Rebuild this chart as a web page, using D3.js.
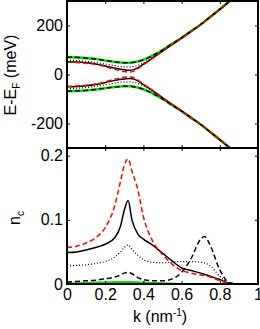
<!DOCTYPE html>
<html>
<head>
<meta charset="utf-8">
<script src="https://cdn.jsdelivr.net/npm/d3@7"></script>
<style>
  body { margin: 0; background: #fff; }
  text { font-family: "Liberation Sans", Arial, sans-serif; }
</style>
</head>
<body>
<script>
'use strict';

// band structure (top panel), energies in meV
const bandK = [0, 0.05, 0.1, 0.15, 0.2, 0.25, 0.3, 0.33, 0.35, 0.4, 0.45, 0.5, 0.55, 0.6, 0.65, 0.7, 0.75, 0.8, 0.85, 0.9];
const greenUp   = [71, 70, 67, 63, 57, 51, 48, 48, 50, 60, 78, 100, 125, 150, 177, 204, 235, 266, 298, 330];
const greenDown = [-68, -67, -65, -61, -56, -51, -48, -48, -50, -60, -78, -100, -125, -150, -177, -204, -235, -266, -298, -330];
const dotUp     = [58, 57, 54, 49, 43, 36, 31, 31, 33, 47, 71, 97, 123, 149, 176, 204, 235, 266, 298, 330];
const dotDown   = [-57, -56, -53, -48, -42, -35, -30, -30, -32, -46, -70, -96, -123, -149, -176, -204, -235, -266, -298, -330];
const solidUp   = [52, 51, 48, 43, 35, 26, 19, 17, 20, 42, 68, 95, 122, 148, 176, 204, 235, 266, 298, 330];
const solidDown = [-50, -49, -46, -41, -33, -24, -18, -16, -19, -41, -67, -94, -122, -148, -176, -204, -235, -266, -298, -330];
const redUp     = [50, 49, 46, 41, 32, 21, 12, 10, 14, 40, 67, 95, 122, 148, 176, 204, 235, 266, 298, 330];
const redDown   = [-48, -47, -44, -39, -30, -19, -11, -9, -13, -39, -66, -94, -122, -148, -176, -204, -235, -266, -298, -330];

// n_c (bottom panel)
const ncK = [0, 0.05, 0.1, 0.15, 0.2, 0.25, 0.28, 0.3, 0.32, 0.34, 0.37, 0.4, 0.45, 0.5, 0.55, 0.6, 0.65, 0.7, 0.72, 0.75, 0.8, 0.85, 0.9, 0.95, 1];
const ncRed    = [0.057, 0.059, 0.064, 0.072, 0.088, 0.122, 0.16, 0.185, 0.195, 0.176, 0.148, 0.105, 0.066, 0.046, 0.031, 0.021, 0.017, 0.014, 0.013, 0.011, 0.005, 0.001, 0, 0, 0];
const ncSolid  = [0.049, 0.050, 0.053, 0.057, 0.062, 0.072, 0.09, 0.115, 0.13, 0.1, 0.078, 0.07, 0.06, 0.048, 0.036, 0.025, 0.021, 0.017, 0.015, 0.012, 0.007, 0.001, 0, 0, 0];
const ncDot    = [0.028, 0.029, 0.030, 0.032, 0.035, 0.042, 0.05, 0.057, 0.061, 0.054, 0.045, 0.038, 0.034, 0.033, 0.034, 0.035, 0.035, 0.034, 0.033, 0.028, 0.012, 0.001, 0, 0, 0];
const ncDash   = [0.003, 0.004, 0.005, 0.006, 0.008, 0.011, 0.014, 0.017, 0.018, 0.016, 0.01, 0.007, 0.005, 0.005, 0.008, 0.018, 0.04, 0.07, 0.074, 0.06, 0.022, 0.002, 0, 0, 0];
const ncGreen  = [0.001, 0.001, 0.0015, 0.002, 0.0025, 0.003, 0.003, 0.003, 0.003, 0.003, 0.0025, 0.002, 0.0015, 0.001, 0.0005, 0, 0, 0, 0, 0, 0, 0, 0, 0, 0];

const xTicks = [0, 0.2, 0.4, 0.6, 0.8, 1];
const eTicks = [-200, 0, 200];
const nTicks = [0, 0.1, 0.2];

(function() {

  let svg = "";

  window.onload = function() {
    svg = d3.select('body')
      .append('svg')
      .attr('width', 260)
      .attr('height', 329);

    let x = d3.scaleLinear().domain([0, 1]).range([67, 258]);
    let yTop = d3.scaleLinear().domain([-300, 300]).range([148, 1]);
    let yBot = d3.scaleLinear().domain([0, 0.212]).range([284, 148]);

    makeClip('clipTop', x, yTop);
    makeClip('clipBot', x, yBot);

    // top panel: bands
    let bands = [
      [greenUp, '#00e000', 2.6, null],
      [greenDown, '#00e000', 2.6, null],
      [greenUp, 'black', 1.4, '5,3'],
      [greenDown, 'black', 1.4, '5,3'],
      [dotUp, 'black', 1.2, '1,2'],
      [dotDown, 'black', 1.2, '1,2'],
      [solidUp, 'black', 1.5, null],
      [solidDown, 'black', 1.5, null],
      [redUp, 'red', 1.5, '5,3'],
      [redDown, 'red', 1.5, '5,3']
    ];
    bands.forEach(b => plotLine(bandK, b[0], x, yTop, b[1], b[2], b[3], 'clipTop'));

    // bottom panel: n_c
    let lines = [
      [ncGreen, '#00e000', 2.2, null],
      [ncDot, 'black', 1.2, '1,2'],
      [ncDash, 'black', 1.5, '5,3'],
      [ncSolid, 'black', 1.5, null],
      [ncRed, 'red', 1.5, '5,3']
    ];
    lines.forEach(b => plotLine(ncK, b[0], x, yBot, b[1], b[2], b[3], 'clipBot'));

    drawAxes(x, yTop, eTicks, false);
    drawAxes(x, yBot, nTicks, true);
    makeLabels();
  }

  function makeClip(id, x, y) {
    svg.append('clipPath')
      .attr('id', id)
      .append('rect')
      .attr('x', x.range()[0])
      .attr('y', y.range()[1])
      .attr('width', x.range()[1] - x.range()[0])
      .attr('height', y.range()[0] - y.range()[1]);
  }

  function plotLine(ks, vals, x, y, color, width, dash, clip) {
    let line = d3.line()
      .x((d, i) => x(ks[i]))
      .y(d => y(d))
      .curve(d3.curveMonotoneX);
    svg.append('path')
      .datum(vals)
      .attr('clip-path', 'url(#' + clip + ')')
      .attr('d', line)
      .style('fill', 'none')
      .style('stroke', color)
      .style('stroke-width', width)
      .style('stroke-dasharray', dash);
  }

  // box with inward ticks on all sides
  function drawAxes(x, y, yTicks, showX) {
    let fmt = d => d === 0 ? '0' : String(d);

    let bottom = svg.append('g')
      .attr('transform', 'translate(0,' + y.range()[0] + ')')
      .call(d3.axisBottom(x).tickValues(xTicks).tickSize(-3).tickPadding(5).tickFormat(showX ? fmt : ''));
    let top = svg.append('g')
      .attr('transform', 'translate(0,' + y.range()[1] + ')')
      .call(d3.axisTop(x).tickValues(xTicks).tickSize(-3).tickFormat(''));
    let left = svg.append('g')
      .attr('transform', 'translate(' + x.range()[0] + ',0)')
      .call(d3.axisLeft(y).tickValues(yTicks).tickSize(-3).tickPadding(4).tickFormat(fmt));
    let right = svg.append('g')
      .attr('transform', 'translate(' + x.range()[1] + ',0)')
      .call(d3.axisRight(y).tickValues(yTicks).tickSize(-3).tickFormat(''));

    [bottom, top, left, right].forEach(g => {
      g.select('.domain').remove();
      g.selectAll('line').style('stroke', 'black').style('stroke-width', 1);
      g.selectAll('text')
        .style('font-family', '"Liberation Sans", Arial, sans-serif')
        .style('font-size', '16px')
        .style('fill', 'black');
    });

    svg.append('rect')
      .attr('x', x.range()[0])
      .attr('y', y.range()[1])
      .attr('width', x.range()[1] - x.range()[0])
      .attr('height', y.range()[0] - y.range()[1])
      .style('fill', 'none')
      .style('stroke', 'black')
      .style('stroke-width', 2);
  }

  function makeLabels() {
    let eLabel = svg.append('text')
      .attr('transform', 'translate(16, 75)rotate(-90)')
      .attr('text-anchor', 'middle')
      .style('font-size', '16px');
    eLabel.append('tspan').text('E-E');
    eLabel.append('tspan').attr('dy', 4).style('font-size', '10px').text('F');
    eLabel.append('tspan').attr('dy', -4).text(' (meV)');

    let nLabel = svg.append('text')
      .attr('transform', 'translate(20, 218)rotate(-90)')
      .attr('text-anchor', 'middle')
      .style('font-size', '16px');
    nLabel.append('tspan').text('n');
    nLabel.append('tspan').attr('dy', 4).style('font-size', '10px').text('c');

    let kLabel = svg.append('text')
      .attr('x', 160)
      .attr('y', 322)
      .attr('text-anchor', 'middle')
      .style('font-size', '16px');
    kLabel.append('tspan').text('k (nm');
    kLabel.append('tspan').attr('dy', -6).style('font-size', '10px').text('-1');
    kLabel.append('tspan').attr('dy', 6).text(')');
  }
})();
</script>
</body>
</html>
